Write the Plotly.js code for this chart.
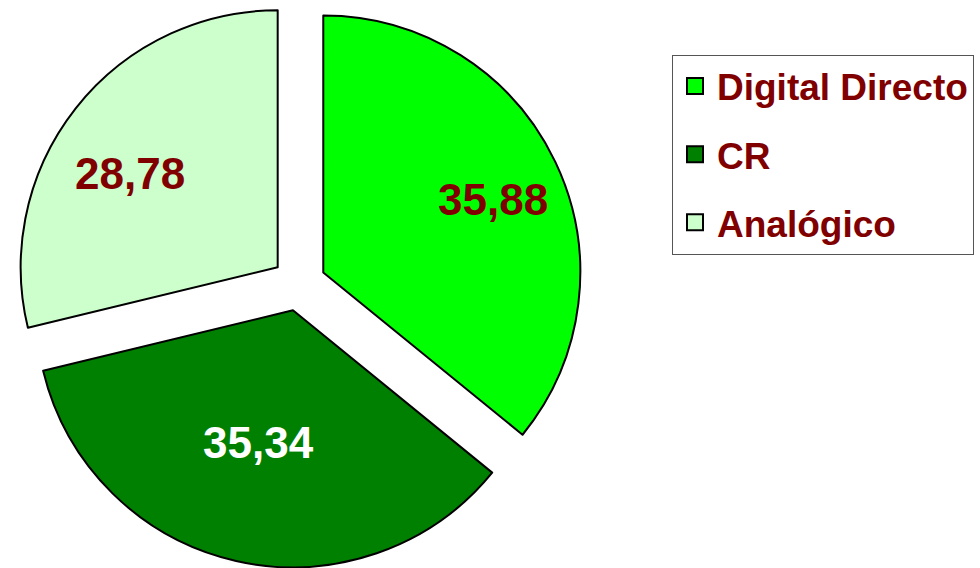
<!DOCTYPE html>
<html>
<head>
<meta charset="utf-8">
<script src="https://cdn.plot.ly/plotly-3.0.1.min.js"></script>
<style>html,body{margin:0;padding:0;background:#fff;}#chart{width:980px;height:568px;}</style>
</head>
<body>
<div id="chart"></div>
<script>
const categories = ["Digital Directo", "CR", "Analógico"];
const values = [35.88, 35.34, 28.78];
const sliceColors = ["#00FF00", "#008000", "#CCFFCC"];
const labelColors = ["#800000", "#FFFFFF", "#800000"];
// label placement: fraction of radius along the slice bisector, and small angular nudge (deg)
const labelRadius = [0.72, 0.53, 0.68];
const labelAngleNudge = [2, 1.5, -5];

const W = 980, H = 568;
const PULL = 0.105;
const DOMAIN_X = [0.015, 0.595];
const FONT = "Liberation Sans, Arial, sans-serif";

const pie = {
  type: "pie",
  labels: categories,
  values: values,
  sort: false,
  direction: "clockwise",
  rotation: 0,
  pull: PULL,
  showlegend: false,
  marker: {colors: sliceColors, line: {color: "#000000", width: 2}},
  textinfo: "none",
  hoverinfo: "none",
  domain: {x: DOMAIN_X, y: [0, 1]}
};

// labels placed along each slice bisector, using the pie geometry Plotly uses
const total = values.reduce((a, b) => a + b, 0);
const cx = W * (DOMAIN_X[0] + DOMAIN_X[1]) / 2;
const cy = H / 2;
const r = Math.min(W * (DOMAIN_X[1] - DOMAIN_X[0]), H) / (2 + 2 * PULL);
let cum = 0;
const annotations = values.map((v, i) => {
  const mid = (cum + v / 2) / total * 2 * Math.PI + labelAngleNudge[i] * Math.PI / 180;
  cum += v;
  const dist = PULL * r + labelRadius[i] * r;
  const px = cx + dist * Math.sin(mid);
  const py = cy - dist * Math.cos(mid);
  return {
    xref: "paper", yref: "paper",
    x: px / W, y: 1 - py / H,
    xanchor: "center", yanchor: "middle",
    showarrow: false,
    text: v.toFixed(2).replace(".", ","),
    font: {family: FONT, size: 44, weight: "bold", color: labelColors[i]}
  };
});

const legendTraces = categories.map((c, i) => ({
  type: "scatter",
  mode: "markers",
  x: [null], y: [null],
  name: c,
  legendgroup: "g" + i,
  showlegend: true,
  marker: {symbol: "square", size: 16, color: sliceColors[i], line: {color: "#000000", width: 2}},
  hoverinfo: "none"
}));

const layout = {
  width: W, height: H,
  margin: {l: 0, r: 0, t: 0, b: 0, pad: 0, autoexpand: false},
  paper_bgcolor: "#FFFFFF",
  plot_bgcolor: "#FFFFFF",
  separators: ",.",
  xaxis: {visible: false},
  yaxis: {visible: false},
  showlegend: true,
  annotations: annotations,
  legend: {
    x: 672 / W, xanchor: "left",
    y: 1 - 54.5 / H, yanchor: "top",
    bgcolor: "#FFFFFF",
    bordercolor: "#555555", borderwidth: 1,
    font: {family: FONT, size: 37, weight: "bold", color: "#800000"},
    traceorder: "grouped",
    tracegroupgap: 17,
    itemwidth: 34,
    itemclick: false, itemdoubleclick: false
  }
};

Plotly.newPlot("chart", [pie].concat(legendTraces), layout, {displayModeBar: false, staticPlot: true});
</script>
</body>
</html>
